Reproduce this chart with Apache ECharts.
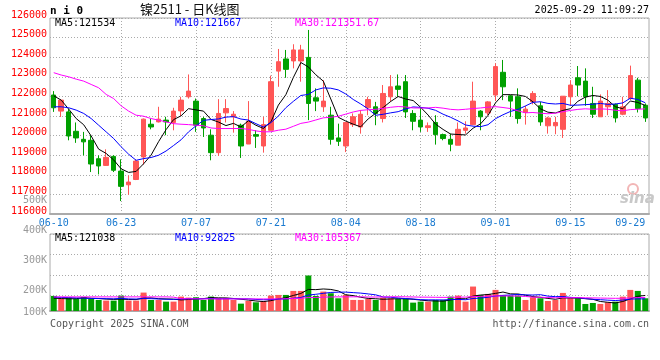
<!DOCTYPE html>
<html><head><meta charset="utf-8">
<script src="https://cdn.jsdelivr.net/npm/echarts@6/dist/echarts.min.js"></script>
<style>html,body{margin:0;padding:0;background:#fff}#c{width:660px;height:360px}</style>
</head><body><div id="c"></div>
<script>
const dates = ['06-10','06-11','06-12','06-13','06-16','06-17','06-18','06-19','06-20','06-23','06-24','06-25','06-26','06-27','06-30',
'07-01','07-02','07-03','07-04','07-07','07-08','07-09','07-10','07-11','07-14','07-15','07-16','07-17','07-18','07-21','07-22','07-23','07-24','07-25','07-28','07-29','07-30','07-31',
'08-01','08-04','08-05','08-06','08-07','08-08','08-11','08-12','08-13','08-14','08-15','08-18','08-19','08-20','08-21','08-22','08-25','08-26','08-27','08-28','08-29',
'09-01','09-02','09-03','09-04','09-05','09-08','09-09','09-10','09-11','09-12','09-15','09-16','09-17','09-18','09-19','09-22','09-23','09-24','09-25','09-26','09-29'];
const tickLabels = ['06-10','06-23','07-07','07-21','08-04','08-18','09-01','09-15','09-29'];

const opens = [122070,121250,121210,120220,119810,119760,118820,118480,118940,118190,
117490,117760,118910,120580,120700,120790,120670,121260,121980,121760,
120870,120020,119130,121160,120960,120530,119570,120050,119470,120270,
123290,123910,123810,123810,123990,121930,121470,121040,119880,119470,
120560,120440,121420,121470,120870,121980,122530,122750,121130,120790,
120410,120670,120050,119810,119510,120270,120560,121250,121160,122070,
123230,122030,121980,121180,121720,121520,120500,120500,120320,121980,
122950,122780,121640,120960,121470,121590,121090,121890,122830,121550];
const closes = [121420,121810,119980,119880,119680,118550,118450,118890,118230,117410,
117630,118700,120840,120440,120840,120700,121250,121810,122270,120530,
120390,119130,121130,121380,121090,119470,120730,119970,120560,122750,
123770,123380,124370,124370,121640,121760,121760,119810,119710,120670,
120960,121090,121840,121130,122150,122490,122360,121210,120730,120440,
120500,120050,119850,119560,120320,120390,121760,120960,121720,123520,
122490,121760,120870,121350,122150,120700,120900,120670,122010,122580,
122580,121980,121090,121760,121640,120900,121470,123060,121380,120900];
const lows = [121210,120950,119760,119630,118990,118140,118020,118450,118140,116660,
116980,117730,118520,120320,120670,120020,120270,121000,121890,120190,
119930,118740,118960,120670,120150,118860,119570,119370,119130,120270,
122490,122950,123430,122750,120790,121250,121210,119540,119470,119160,
120440,120100,121040,120530,120670,121720,121980,120900,120270,120190,
120190,119540,119760,119200,119510,120100,120530,120270,121040,121760,
121810,120960,120610,120560,121590,120500,120100,120070,119880,121550,
122010,121520,120900,120960,121040,120670,121040,121810,121180,120700];
const highs = [122270,121850,121350,120670,120190,120020,118990,119300,119000,118790,
117970,118790,120870,120870,121470,120960,121420,121980,123120,121890,
120960,120320,121860,121860,121250,120610,121760,120270,120960,123060,
124420,124370,124660,124630,125390,122410,122830,121470,120610,120670,
121130,121300,121980,121720,122580,123090,123120,123090,121300,121420,
120670,121040,120100,120100,120670,120730,122750,121300,121760,123690,
123860,122070,122410,121520,122270,121720,120960,120960,122010,122830,
123550,123430,122490,122100,122320,121640,121980,123570,122950,121640];
const volumes = [117400,93900,104400,93900,109600,93900,86100,80900,80900,120000,
80900,80900,143500,86100,86100,73000,73000,112200,104400,107000,
86100,112200,101800,101800,86100,57400,78300,67800,78300,120000,
125200,125200,156500,156500,276600,117400,151300,138300,99100,125200,
86100,86100,93900,86100,104400,99100,93900,93900,65200,73000,
73000,86100,86100,112200,120000,73000,190500,125200,133000,164400,
125200,120000,120000,86100,107000,99100,78300,86100,140900,99100,
99100,54800,62600,54800,67800,73000,112200,164400,156500,99100];

// moving-average values before enough history exists
const ma5Head = [122030,121810,121350,120870];
const ma10Head = [121470,121470,121420,121300,121130,120870,120530,120190,119850];
const ma30Head = [123210,123090,123000,122880,122780,122610,122440,122100,121890,121520,
121250,121040,120990,120870,120790,120700,120610,120580,120560,120530,
120500,120390,120360,120360,120360,120360,120320,120240,120190];
const vMa5Head = [100000,97000,95000,96000];
const vMa10Head = [108000,106000,104000,102000,100000,98000,97000,96000,95000];
const vMa30Head = [110000,110000,110000,110000,110000,110000,110000,110000,110000,110000,
110000,110000,110000,110000,110000,110000,108000,96000,95000,95000,
94000,94000,94000,94000,94000,94000,94000,94000,94000];

const priceTicks = {min:116000, max:126000, step:1000};
const volTickLabels = ['500K','400K','300K','200K','100K'];
const headerTexts = {ma5:'MA5:121534', ma10:'MA10:121667', ma30:'MA30:121351.67'};
const volHeaderTexts = {ma5:'MA5:121038', ma10:'MA10:92825', ma30:'MA30:105367'};

function movingAvg(values, n, head) {
  return values.map((v, i) => {
    if (i < n - 1) return head[i];
    let s = 0;
    for (let k = i - n + 1; k <= i; k++) s += values[k];
    return +(s / n).toFixed(2);
  });
}

const RED = '#ff5656', GREEN = '#00a000';
const MONO = '"DejaVu Sans Mono", monospace';
const GRIDC = '#aaaaaa';
const dotted = {color: GRIDC, type: [1, 2], width: 1};

const candleData = opens.map((o, i) => [o, closes[i], lows[i], highs[i]]);
const volData = volumes.map((v, i) => ({value: v, itemStyle: {color: closes[i] >= opens[i] ? RED : GREEN}}));

const labelShow = (idx, val) => tickLabels.indexOf(val) >= 0;
const splitShow = (idx, val) => tickLabels.indexOf(val) >= 0 && idx !== 0 && idx !== dates.length - 1;

function lineSeries(name, data, color, xi, yi) {
  return {name, type: 'line', data, xAxisIndex: xi, yAxisIndex: yi, showSymbol: false, symbol: 'none',
    lineStyle: {color, width: 1}, itemStyle: {color}, silent: true, z: 5};
}
function txt(x, y, text, fill, align, font) {
  return {type: 'text', x, y, silent: true, z: 100,
    style: {text, fill, align: align || 'left', verticalAlign: 'middle', font: font || ('10px ' + MONO)}};
}

const option = {
  animation: false,
  backgroundColor: '#fff',
  grid: [
    {left: 50, right: 11, top: 18, height: 196, show: true, borderColor: GRIDC, borderWidth: 1},
    {left: 50, right: 11, top: 234, height: 77, show: true, borderColor: GRIDC, borderWidth: 1}
  ],
  xAxis: [
    {type: 'category', gridIndex: 0, data: dates, boundaryGap: true,
      axisLine: {lineStyle: {color: GRIDC, width: 2}}, axisTick: {show: false},
      axisLabel: {interval: labelShow, color: '#1a7ad0', fontFamily: MONO, fontSize: 10, margin: 4, alignMaxLabel: 'right'},
      splitLine: {show: true, interval: splitShow, alignWithLabel: true, lineStyle: dotted}},
    {type: 'category', gridIndex: 1, data: dates, boundaryGap: true,
      axisLine: {lineStyle: {color: GRIDC, width: 2}}, axisTick: {show: false}, axisLabel: {show: false},
      splitLine: {show: true, interval: splitShow, alignWithLabel: true, lineStyle: dotted}}
  ],
  yAxis: [
    {type: 'value', gridIndex: 0, min: priceTicks.min, max: priceTicks.max, interval: priceTicks.step,
      axisLine: {show: false}, axisTick: {show: false},
      axisLabel: {margin: 3, formatter: v => '{v|' + v + '}',
        rich: {v: {color: '#ff0000', fontFamily: MONO, fontSize: 10, padding: [0, 0, 6, 0]}}},
      splitLine: {show: true, lineStyle: dotted}},
    {type: 'value', gridIndex: 1, min: 0, max: 600000, show: false, splitLine: {show: false}},
    {type: 'value', gridIndex: 1, inverse: true, min: 0, max: 77 / 20.5, interval: 1,
      axisLine: {show: false}, axisTick: {show: false}, axisLabel: {show: false},
      splitLine: {show: true, lineStyle: dotted}}
  ],
  series: [
    {type: 'candlestick', xAxisIndex: 0, yAxisIndex: 0, data: candleData, barWidth: 5, silent: true,
      itemStyle: {color: RED, color0: GREEN, borderColor: RED, borderColor0: GREEN, borderWidth: 1}},
    lineSeries('MA5', movingAvg(closes, 5, ma5Head), '#000000', 0, 0),
    lineSeries('MA10', movingAvg(closes, 10, ma10Head), '#0000ff', 0, 0),
    lineSeries('MA30', movingAvg(closes, 30, ma30Head), '#ff00ff', 0, 0),
    {type: 'bar', xAxisIndex: 1, yAxisIndex: 1, data: volData, barWidth: 6, silent: true},
    lineSeries('VMA5', movingAvg(volumes, 5, vMa5Head), '#000000', 1, 1),
    lineSeries('VMA10', movingAvg(volumes, 10, vMa10Head), '#0000ff', 1, 1),
    lineSeries('VMA30', movingAvg(volumes, 30, vMa30Head), '#ff00ff', 1, 1)
  ],
  graphic: [
    txt(50, 11, 'n i 0', '#000', 'left', 'bold 11px ' + MONO),
    txt(140, 9.5, '镍2511 - 日K线图', '#111', 'left', '13px "Noto Sans CJK SC"'),
    txt(649, 10.5, '2025-09-29 11:09:27', '#000', 'right'),
    txt(55, 23.5, headerTexts.ma5, '#000'),
    txt(175, 23.5, headerTexts.ma10, '#0000ff'),
    txt(295, 23.5, headerTexts.ma30, '#ff00ff'),
    txt(55, 238.5, volHeaderTexts.ma5, '#000'),
    txt(175, 238.5, volHeaderTexts.ma10, '#0000ff'),
    txt(295, 238.5, volHeaderTexts.ma30, '#ff00ff'),
    txt(47, 200, volTickLabels[0], '#999', 'right'),
    txt(47, 230, volTickLabels[1], '#999', 'right'),
    txt(47, 260, volTickLabels[2], '#999', 'right'),
    txt(47, 290, volTickLabels[3], '#999', 'right'),
    txt(47, 312, volTickLabels[4], '#999', 'right'),
    txt(50, 324, 'Copyright 2025 SINA.COM', '#555'),
    txt(649, 324, 'http://finance.sina.com.cn', '#555', 'right'),
    {type: 'circle', shape: {cx: 633, cy: 189, r: 5}, style: {fill: 'none', stroke: '#f2b6b6', lineWidth: 2}, silent: true, z: 1},
    txt(620, 199, 'sina', '#c8c8c8', 'left', 'italic bold 15px "DejaVu Sans"')
  ]
};
const chart = echarts.init(document.getElementById('c'), null, {renderer: 'canvas'});
chart.setOption(option);
</script>
</body></html>
